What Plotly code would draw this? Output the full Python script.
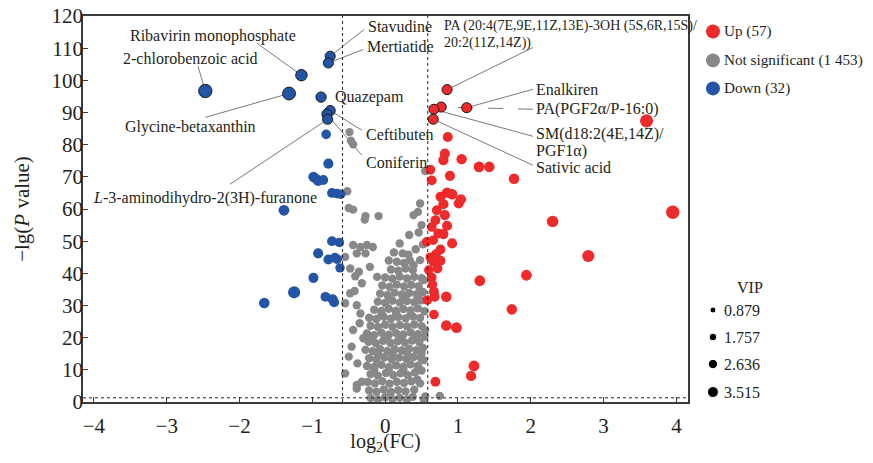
import plotly.graph_objects as go

# ---------------- data ----------------
# Down-regulated (blue)
down_x = [-0.755, -0.78, -1.15, -2.47, -1.32, -0.88, -0.755, -0.80, -0.79,
          -0.81, -0.78, -0.985, -0.92, -0.85, -0.73, -0.66, -0.61, -1.39,
          -0.73, -0.63, -0.92, -0.78, -0.66, -0.62, -0.985, -1.25, -0.82,
          -0.72, -1.66, -0.95, -0.70, -0.69]
down_y = [107.5, 105.4, 101.6, 96.7, 95.9, 94.8, 90.6, 89.5, 87.9,
          83.2, 74.1, 70.0, 68.7, 69.0, 65.0, 64.8, 64.6, 59.6,
          50.0, 49.6, 46.2, 44.3, 44.4, 41.7, 38.6, 34.1, 32.7,
          31.9, 30.8, 69.4, 31.0, 44.9]
down_vip = [2.0, 2.0, 2.6, 3.4, 3.2, 2.1, 2.0, 2.0, 2.0,
            1.8, 2.0, 2.1, 2.0, 1.9, 1.9, 1.8, 1.8, 2.3,
            1.9, 1.8, 2.0, 1.9, 1.8, 1.7, 2.0, 2.9, 1.9,
            2.0, 2.2, 1.9, 1.9, 1.8]
down_name = ["Stavudine", "Mertiatide", "Ribavirin monophosphate", "2-chlorobenzoic acid",
             "Glycine-betaxanthin", "Quazepam", "Ceftibuten", "Coniferin",
             "<i>L</i>-3-aminodihydro-2(3H)-furanone"] + [""] * 23

# Up-regulated (red)
up_x = [0.85, 1.12, 0.77, 0.67, 0.66,
        3.59, 3.95, 2.30, 1.77, 2.79, 1.94, 1.30, 1.74, 0.84, 0.98, 1.22, 1.18, 0.69,
        0.86, 0.82, 0.80, 1.05, 1.29, 1.43, 0.62, 0.89, 0.64, 0.85, 0.76, 0.92,
        1.04, 1.01, 0.80, 0.71, 0.82, 0.69, 0.85, 0.64, 0.73, 0.80, 0.66, 0.92,
        0.84, 0.67, 0.67, 0.68, 0.58, 0.76, 0.66, 0.76, 0.60, 0.64, 0.57,
        0.70, 0.62, 0.72, 0.65]
up_y = [97.1, 91.5, 91.7, 91.0, 87.9,
        87.4, 59.0, 56.1, 69.4, 45.4, 39.4, 37.7, 28.8, 23.8, 23.1, 11.2, 8.1, 6.3,
        82.4, 77.2, 75.2, 75.5, 73.1, 73.1, 72.2, 70.3, 68.9, 65.1, 63.8, 64.6,
        63.0, 61.7, 61.5, 59.6, 58.1, 56.5, 54.8, 54.4, 52.4, 52.2, 50.3, 49.3,
        32.7, 27.2, 34.3, 32.7, 31.7, 47.4, 43.6, 43.9, 41.0, 38.7, 49.8,
        46.0, 45.0, 41.5, 36.5]
up_vip = [2.0, 2.0, 2.0, 2.0, 2.0,
          3.3, 3.4, 2.6, 2.2, 2.9, 2.3, 2.3, 2.2, 2.2, 2.3, 2.3, 2.1, 1.9,
          2.0, 2.0, 2.1, 2.1, 2.3, 2.2, 1.9, 2.0, 1.9, 2.1, 2.0, 2.2,
          2.1, 2.0, 2.0, 1.9, 2.0, 1.9, 2.0, 1.8, 1.9, 2.0, 1.8, 2.0,
          2.2, 1.8, 1.9, 1.9, 1.8, 1.9, 1.8, 1.9, 1.8, 1.8, 1.8,
          1.8, 1.8, 1.8, 1.8]
up_name = ["PA (20:4(7E,9E,11Z,13E)-3OH (5S,6R,15S)/<br>20:2(11Z,14Z))", "Enalkiren",
           "PA(PGF2α/P-16:0)", "SM(d18:2(4E,14Z)/<br>PGF1α)", "Sativic acid"] + [""] * 52

# Not significant (grey)
ns_x = [-0.49, -0.47, -0.44, 0.55, -0.52, -0.50, -0.44, -0.27, -0.28, -0.09,
        0.48, 0.45, 0.39, 0.33, 0.20, 0.46, -0.44, -0.34, -0.25, -0.17,
        -0.39, -0.27, -0.55, -0.48, -0.41, -0.32, -0.48, -0.55, -0.39, -0.34,
        -0.44, -0.46, -0.30, -0.50, -0.55, -0.39, -0.32, -0.21, -0.11, 0.48,
        0.39, 0.53, 0.48, 0.55, 0.53, 0.48, 0.55, 0.75, 0.53, -0.39,
        0.42, 0.50, 0.52, -0.35, -0.38, -0.42, -0.36, 0.12, 0.05,
        -0.20, -0.10, 0.00, 0.10, 0.20, 0.30, 0.38,
        -0.22, -0.12, -0.02, 0.08, 0.18, 0.28, 0.40,
        -0.24, -0.14, -0.04, 0.06, 0.16, 0.26, 0.36, 0.44,
        -0.20, -0.10, 0.01, 0.11, 0.21, 0.31, 0.41, 0.50,
        -0.25, -0.15, -0.05, 0.05, 0.15, 0.25, 0.35, 0.45,
        -0.22, -0.12, -0.01, 0.09, 0.19, 0.29, 0.39, 0.49,
        -0.27, -0.17, -0.07, 0.03, 0.13, 0.23, 0.33, 0.43, 0.52,
        -0.23, -0.13, -0.03, 0.07, 0.17, 0.27, 0.37, 0.47,
        -0.25, -0.15, -0.05, 0.05, 0.15, 0.25, 0.35, 0.45, 0.54,
        -0.20, -0.10, 0.00, 0.10, 0.20, 0.30, 0.40, 0.50,
        -0.22, -0.12, -0.02, 0.08, 0.18, 0.28, 0.38, 0.48,
        -0.15, -0.05, 0.05, 0.15, 0.25, 0.35, 0.45, 0.54,
        -0.10, 0.00, 0.10, 0.20, 0.30, 0.40, 0.50,
        -0.07, 0.03, 0.13, 0.23, 0.33, 0.43, 0.52,
        -0.04, 0.06, 0.16, 0.26, 0.36, 0.46,
        0.00, 0.10, 0.20, 0.30, 0.40, 0.50,
        0.08, 0.18, 0.28, 0.38,
        0.16, 0.26, 0.34,
        0.24, 0.32,
        -0.15, 0.05, 0.25, 0.45, -0.10, 0.10, 0.30, 0.50,
        -0.18, 0.02, 0.22, 0.42, -0.05, 0.15, 0.35, 0.05, 0.25, 0.45]
ns_y = [83.9, 81.2, 80.1, 71.8, 65.5, 60.3, 59.8, 57.8, 56.7, 57.8,
        61.7, 59.1, 58.1, 51.9, 49.3, 52.7, 48.8, 48.2, 48.8, 48.2,
        46.2, 46.2, 45.1, 41.5, 39.1, 36.9, 33.8, 30.7, 30.1, 27.5,
        22.4, 17.2, 19.8, 14.1, 8.9, 5.3, 6.3, 42.0, 38.9, 44.1,
        42.5, 37.9, 31.7, 22.4, 13.0, 5.8, 1.7, 1.9, 0.8, 4.2,
        47.5, 55.0, 49.0, 24.5, 12.0, 34.5, 40.5, 46.5, 44.0,
        1.2, 0.8, 1.5, 0.9, 1.3, 0.8, 1.6,
        3.6, 3.2, 3.9, 3.1, 3.7, 3.3, 3.8,
        6.2, 5.8, 6.5, 5.7, 6.3, 5.9, 6.4, 7.0,
        8.7, 8.2, 9.0, 8.4, 8.9, 8.3, 9.2, 9.8,
        11.2, 10.9, 11.6, 10.8, 11.4, 11.0, 11.7, 11.3,
        13.6, 13.2, 13.9, 13.3, 13.8, 13.4, 14.0, 13.7,
        16.2, 15.8, 16.5, 15.9, 16.4, 16.0, 16.6, 16.1, 16.8,
        18.7, 18.3, 19.0, 18.4, 18.9, 18.5, 19.1, 18.6,
        21.3, 20.8, 21.5, 20.9, 21.4, 21.0, 21.6, 21.1, 20.3,
        23.7, 23.3, 24.0, 23.4, 23.9, 23.5, 24.1, 23.6,
        26.2, 25.8, 26.5, 25.9, 26.4, 26.0, 26.6, 26.1,
        28.7, 28.3, 29.0, 28.4, 28.9, 28.5, 29.1, 28.2,
        31.2, 30.8, 31.5, 30.9, 31.4, 31.0, 31.6,
        33.7, 33.3, 34.0, 33.4, 33.9, 33.5, 34.2,
        36.2, 35.8, 36.5, 35.9, 36.4, 36.0,
        38.7, 38.3, 39.0, 38.4, 38.9, 38.5,
        41.2, 40.8, 41.5, 41.0,
        43.6, 43.2, 44.0,
        46.2, 45.8,
        10.0, 9.7, 10.2, 9.9, 15.0, 14.8, 15.3, 15.1,
        20.0, 19.8, 20.2, 20.1, 27.5, 27.7, 27.3, 32.5, 32.3, 32.8]
ns_vip = 1.25

groups = ["Up (57)", "Not significant (1 453)", "Down (32)"]
vip_legend = [0.879, 1.757, 2.636, 3.515]
fc_cut = 0.585      # log2(1.5)
p_cut = 1.3         # -lg(0.05)

# label text positions: (x, y of first line, xanchor, line start x, line start y, dashed, font size)
label_pos = {
    "Ribavirin monophosphate": (-2.36, 113.7, "center", -1.76, 111.5, False, 16),
    "2-chlorobenzoic acid": (-2.68, 106.8, "center", -2.57, 104.3, False, 16),
    "Stavudine": (-0.26, 116.8, "left", -0.29, 115.8, False, 16),
    "Mertiatide": (-0.275, 110.6, "left", -0.30, 109.6, False, 16),
    "Quazepam": (-0.71, 94.7, "left", None, None, False, 16),
    "Glycine-betaxanthin": (-2.68, 85.4, "center", -2.47, 88.5, False, 16),
    "Ceftibuten": (-0.29, 83.2, "left", -0.32, 84.5, False, 16),
    "Coniferin": (-0.29, 74.5, "left", -0.32, 76.7, False, 16),
    "<i>L</i>-3-aminodihydro-2(3H)-furanone": (-2.47, 63.4, "center", -2.13, 67.7, False, 16),
    "PA (20:4(7E,9E,11Z,13E)-3OH (5S,6R,15S)/<br>20:2(11Z,14Z))": (0.78, 116.9, "left", 2.03, 110.2, False, 14),
    "Enalkiren": (2.05, 97.2, "left", 2.03, 97.2, False, 16),
    "PA(PGF2α/P-16:0)": (2.05, 91.0, "left", 2.03, 91.0, True, 16),
    "SM(d18:2(4E,14Z)/<br>PGF1α)": (2.05, 83.2, "left", 2.03, 82.6, False, 16),
    "Sativic acid": (2.05, 73.0, "left", 2.03, 73.6, False, 16),
}
line_step = 5.3   # y-units between lines of a wrapped label

# ---------------- styles ----------------
RED = "#EE2A2B"
GREY = "#88888B"
BLUE = "#2354A6"
TXT = "#231F20"
FONT = "Liberation Serif"


def sz(v):
    return 5.5 + 2.3 * v


fig = go.Figure()

fig.add_trace(go.Scatter(x=ns_x, y=ns_y, mode="markers", showlegend=False,
                         marker=dict(color=GREY, size=sz(ns_vip), opacity=1, line=dict(width=0))))
fig.add_trace(go.Scatter(x=down_x, y=down_y, mode="markers", showlegend=False,
                         marker=dict(color=BLUE, size=[sz(v) for v in down_vip], opacity=1,
                                     line=dict(color="#1a1a1a", width=[1 if n else 0 for n in down_name]))))
fig.add_trace(go.Scatter(x=up_x, y=up_y, mode="markers", showlegend=False,
                         marker=dict(color=RED, size=[sz(v) for v in up_vip], opacity=1,
                                     line=dict(color="#1a1a1a", width=[1 if n else 0 for n in up_name]))))

# threshold lines
shapes = [
    dict(type="line", xref="x", yref="y", x0=-fc_cut, x1=-fc_cut, y0=0, y1=120,
         line=dict(color="#222", width=1, dash="dot")),
    dict(type="line", xref="x", yref="y", x0=fc_cut, x1=fc_cut, y0=0, y1=120,
         line=dict(color="#222", width=1, dash="dot")),
    dict(type="line", xref="x domain", yref="y", x0=0, x1=1, y0=p_cut, y1=p_cut,
         line=dict(color="#222", width=1, dash="dot")),
]

annotations = []
points = {}
for xs, ys, ns in ((down_x, down_y, down_name), (up_x, up_y, up_name)):
    for x, y, n in zip(xs, ys, ns):
        if n:
            points[n] = (x, y)

for name, (tx, ty, anchor, lx, ly, dashed, fsize) in label_pos.items():
    px, py = points[name]
    if lx is not None:
        shapes.append(dict(type="line", xref="x", yref="y", x0=lx, y0=ly, x1=px, y1=py,
                           layer="below",
                           line=dict(color="#7a7a7a", width=1, dash="longdash" if dashed else "solid")))
    for i, part in enumerate(name.split("<br>")):
        annotations.append(dict(x=tx, y=ty - i * line_step, xref="x", yref="y", text=part,
                                showarrow=False, xanchor=anchor, yanchor="middle", align="left",
                                font=dict(family=FONT, size=fsize, color=TXT)))

# legends drawn in an inset axis to the right of the plot
leg_colors = [RED, GREY, BLUE]
leg_y = [115.2, 106.2, 97.5]
fig.add_trace(go.Scatter(x=[0.104] * 3, y=leg_y, xaxis="x2", yaxis="y2", mode="markers",
                         showlegend=False, hoverinfo="skip",
                         marker=dict(color=leg_colors, size=14, opacity=1)))
for g, yy in zip(groups, leg_y):
    annotations.append(dict(x=0.16, y=yy, xref="x2", yref="y2", text=g, showarrow=False,
                            xanchor="left", yanchor="middle",
                            font=dict(family=FONT, size=15.2, color=TXT)))

vip_y = [28.6, 20.2, 11.8, 3.1]
fig.add_trace(go.Scatter(x=[0.104] * 4, y=vip_y, xaxis="x2", yaxis="y2", mode="markers",
                         showlegend=False, hoverinfo="skip",
                         marker=dict(color="black", size=[4.3 + 1.9 * v for v in vip_legend], opacity=1)))
for v, yy in zip(vip_legend, vip_y):
    annotations.append(dict(x=0.157, y=yy, xref="x2", yref="y2", text=f"{v:.3f}", showarrow=False,
                            xanchor="left", yanchor="middle",
                            font=dict(family=FONT, size=16, color=TXT)))
annotations.append(dict(x=0.322, y=35.7, xref="x2", yref="y2", text="VIP", showarrow=False,
                        xanchor="center", yanchor="middle",
                        font=dict(family=FONT, size=16, color=TXT)))

axis_common = dict(showgrid=False, zeroline=False, showline=True, linecolor="#3a3a3a",
                   linewidth=1.5, mirror=True, ticks="inside", ticklen=5, tickwidth=1.2,
                   tickcolor="#3a3a3a", automargin=False, ticklabeloverflow="allow",
                   tickfont=dict(family=FONT, size=21, color=TXT))

# the page body has an 8px default margin, so the figure is sized to fit inside it
fig.update_layout(
    width=857, height=447,
    margin=dict(l=75, r=0, t=8, b=53),
    plot_bgcolor="white", paper_bgcolor="white",
    font=dict(family=FONT, color=TXT),
    xaxis=dict(domain=[0, 0.7737], range=[-4.15, 4.16], tickvals=[-4, -3, -2, -1, 0, 1, 2, 3, 4],
               ticklabelstandoff=4,
               title=dict(text="log<sub>2</sub>(FC)", font=dict(family=FONT, size=20, color=TXT),
                          standoff=4),
               **axis_common),
    yaxis=dict(range=[0, 120], tickvals=list(range(0, 121, 10)),
               ticklabelstandoff=-6,
               title=dict(text="−lg(<i>P</i> value)", font=dict(family=FONT, size=21, color=TXT),
                          standoff=16),
               **axis_common),
    xaxis2=dict(domain=[0.783, 1.0], range=[0, 1], anchor="y2", visible=False),
    yaxis2=dict(domain=[0, 1], range=[0, 120], anchor="x2", visible=False),
    shapes=shapes,
    annotations=annotations,
)

fig.write_html("out.html")
